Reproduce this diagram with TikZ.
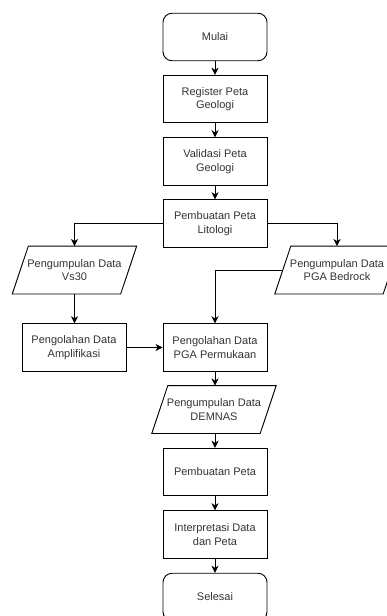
\documentclass[tikz,border=0pt]{standalone}
\usepackage{fontspec}
\setmainfont{Liberation Sans}
\usetikzlibrary{arrows.meta}
\definecolor{txt}{HTML}{333333}
\tikzset{
  base/.style={minimum width=104pt, minimum height=47.5pt, align=center, inner sep=1pt,
    font=\fontsize{11}{13.5}\selectfont, text=txt},
  procbox/.style={base, draw, line width=0.9pt},
  termbox/.style={base, draw, line width=0.9pt, rounded corners=9pt},
  parabox/.style={base, minimum width=108pt},
  paraline/.style={line width=0.9pt, line join=miter},
  conn/.style={line width=0.9pt, -{Stealth[length=7pt,width=7pt,inset=2pt]}}
}
\newcommand{\parashape}[1]{%
  \draw[paraline] ([xshift=8pt]#1.north west) -- ([xshift=8pt]#1.north east)
    -- ([xshift=-8pt]#1.south east) -- ([xshift=-8pt]#1.south west) -- cycle;}
\begin{document}
\begin{tikzpicture}[x=1pt,y=-1pt]
\useasboundingbox (0,0) rectangle (387,616);
\clip (0,0) rectangle (387,616);
\node[termbox] (mulai) at (215,37) {Mulai};
\node[procbox] (reg) at (215,99) {Register Peta\\Geologi};
\node[procbox] (val) at (215,161.5) {Validasi Peta\\Geologi};
\node[procbox] (lit) at (215,223.5) {Pembuatan Peta\\Litologi};
\node[parabox] (vs) at (74.5,270) {Pengumpulan Data\\Vs30};
\parashape{vs}
\node[parabox] (bed) at (337,270) {Pengumpulan Data\\PGA Bedrock};
\parashape{bed}
\node[procbox] (amp) at (74,347.5) {Pengolahan Data\\Amplifikasi};
\node[procbox] (pga) at (215,347.5) {Pengolahan Data\\PGA Permukaan};
\node[parabox] (dem) at (214,409.5) {Pengumpulan Data\\DEMNAS};
\parashape{dem}
\node[procbox] (buat) at (215,472) {Pembuatan Peta};
\node[procbox] (int) at (215,534.5) {Interpretasi Data\\dan Peta};
\node[termbox] (sel) at (215,597) {Selesai};

\draw[conn] (mulai) -- (reg);
\draw[conn] (reg) -- (val);
\draw[conn] (val) -- (lit);
\draw[conn] (lit.west) -| (vs.north);
\draw[conn] (lit.east) -| (bed.north);
\draw[conn] (vs.south) -- (vs.south |- amp.north);
\draw[conn] (bed.west) -| (pga.north);
\draw[conn] (amp) -- (pga);
\draw[conn] (pga.south) -- (pga.south |- dem.north);
\draw[conn] (dem.south) -- (dem.south -| buat.north) -- (buat.north);
\draw[conn] (buat) -- (int);
\draw[conn] (int) -- (sel);
\end{tikzpicture}
\end{document}
